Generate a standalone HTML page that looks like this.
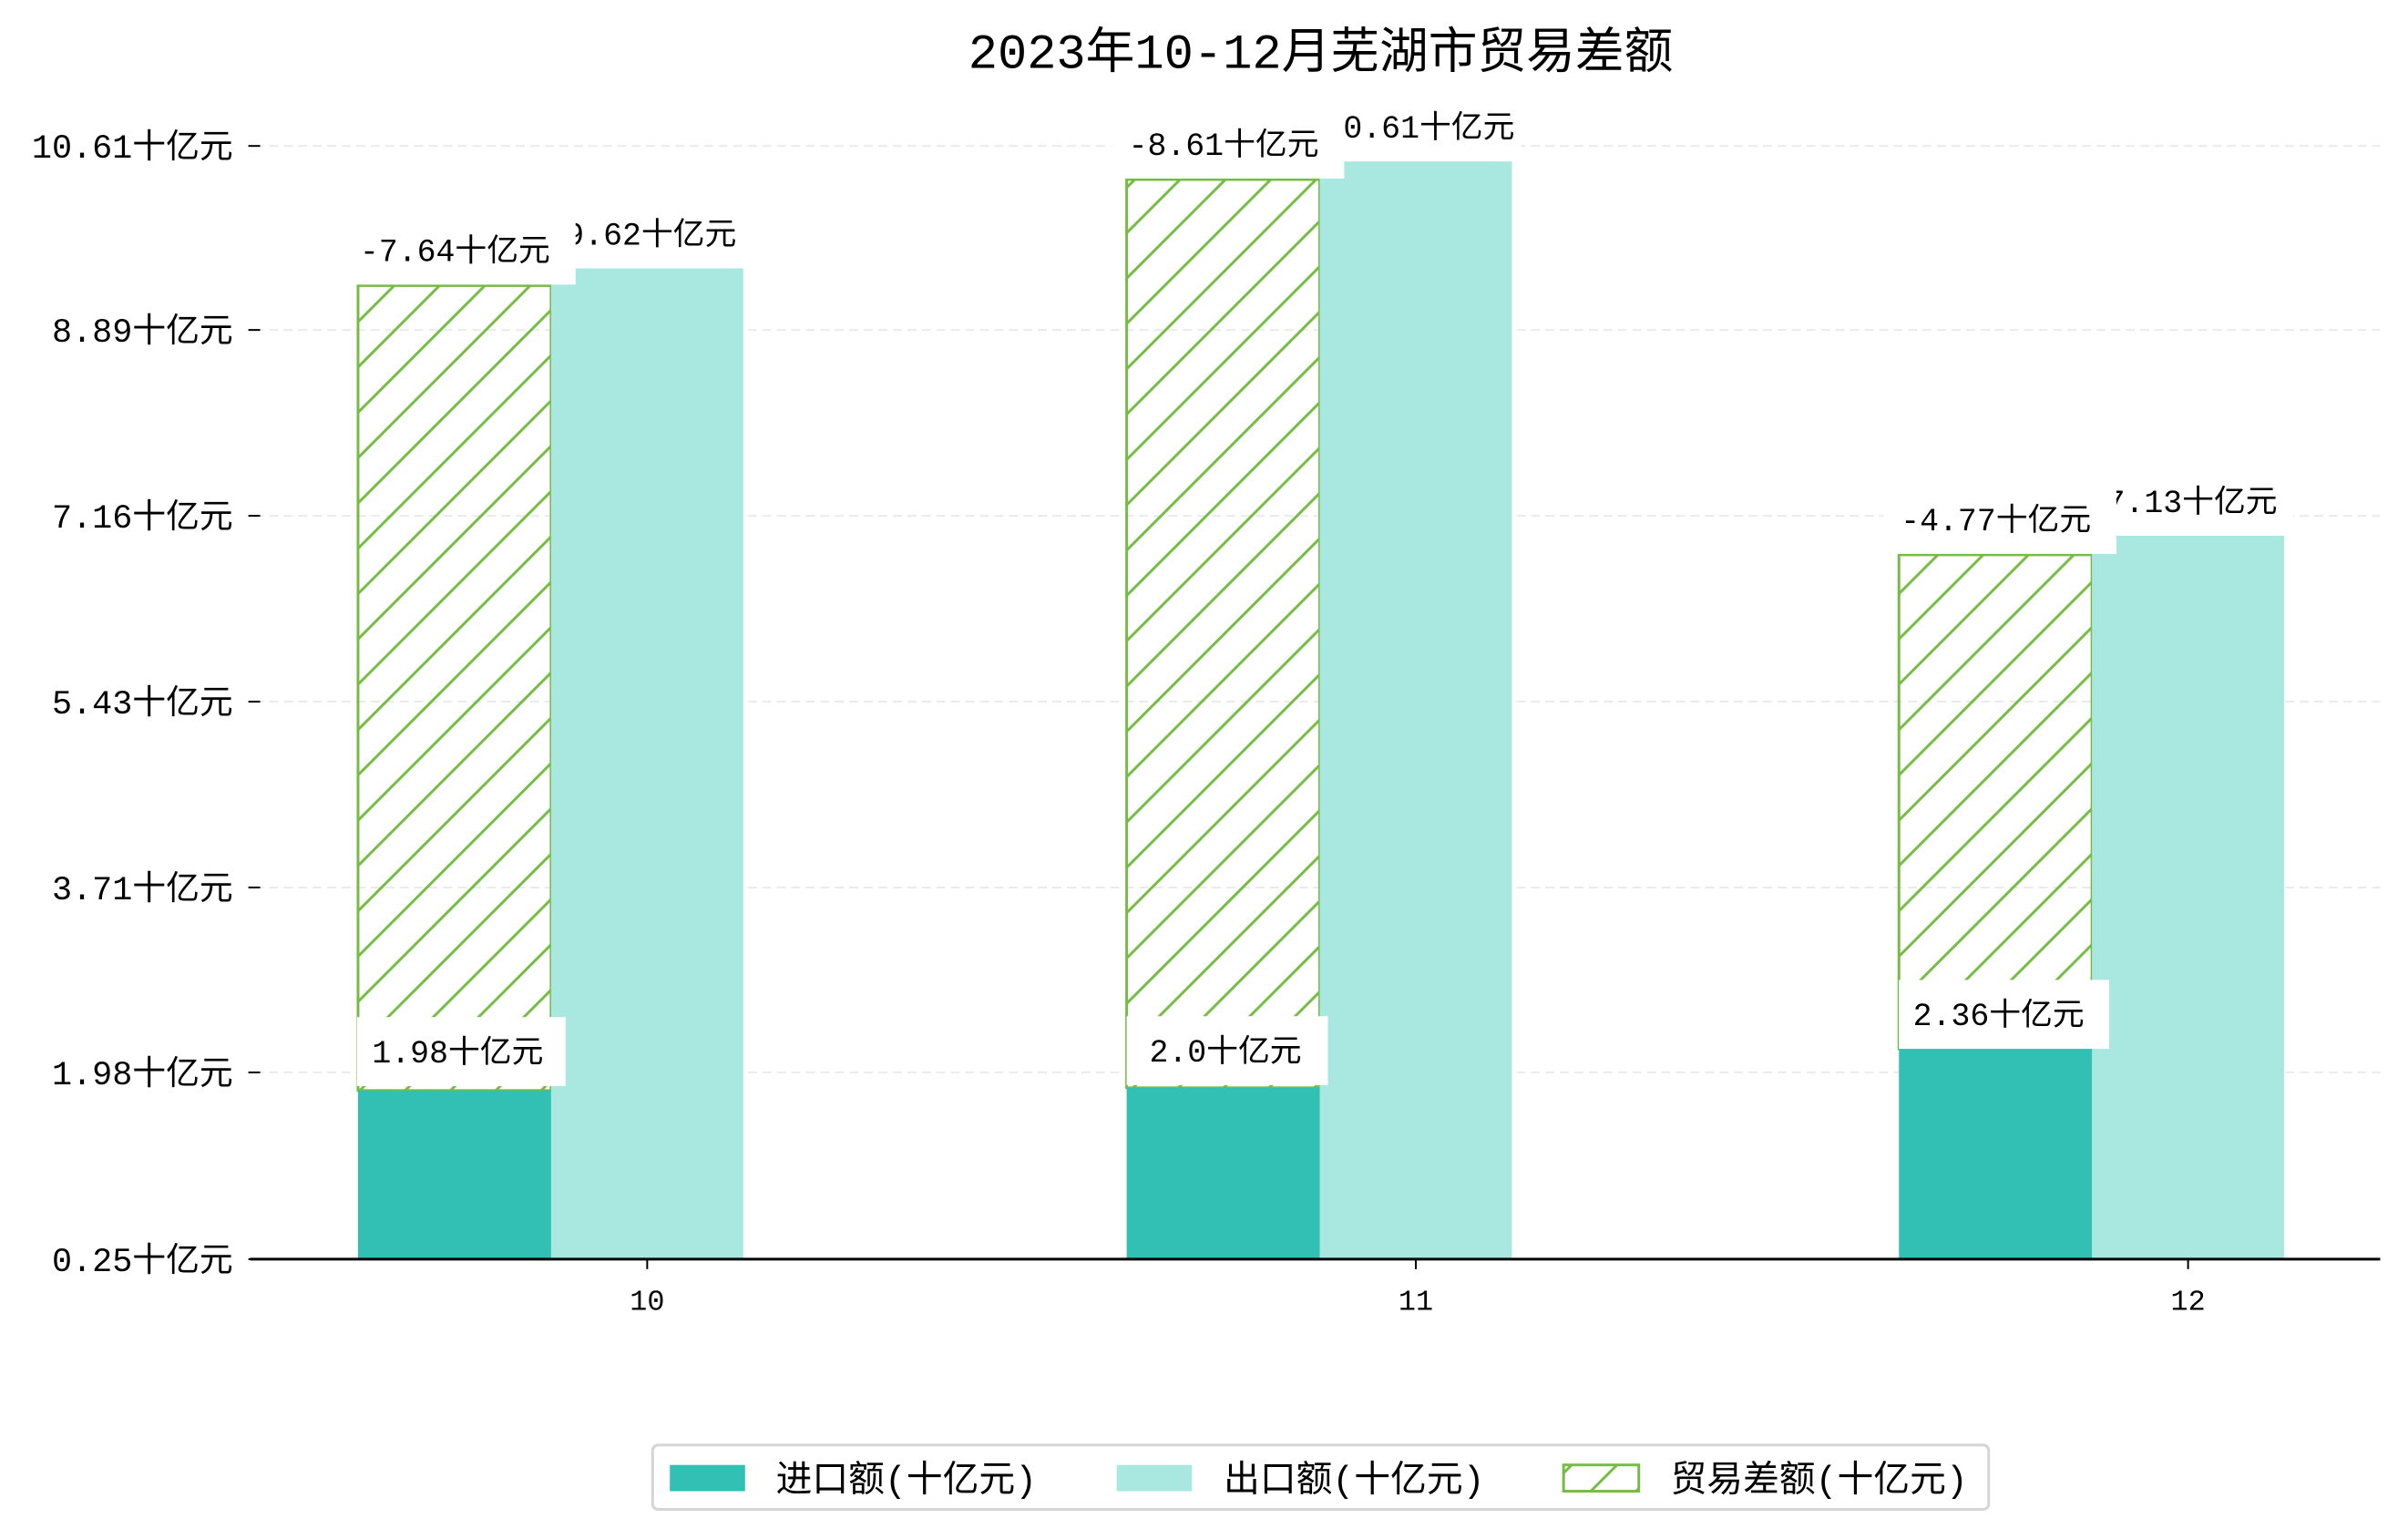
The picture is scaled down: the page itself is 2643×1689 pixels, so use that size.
<!DOCTYPE html>
<html><head><meta charset="utf-8"><style>
html,body{margin:0;padding:0;background:#fff;}
svg{display:block;}
text{font-family:"Liberation Mono","Noto Sans CJK SC",monospace;fill:#000;}
</style></head><body>
<svg width="2643" height="1689" viewBox="0 0 2643 1689" xmlns="http://www.w3.org/2000/svg">
<defs>
<pattern id="h" patternUnits="userSpaceOnUse" width="50" height="50">
<line x1="-5" y1="55" x2="55" y2="-5" stroke="#76bc44" stroke-width="3"/>
<line x1="-55" y1="55" x2="5" y2="-5" stroke="#76bc44" stroke-width="3"/>
<line x1="45" y1="55" x2="105" y2="-5" stroke="#76bc44" stroke-width="3"/>
</pattern>
</defs>
<rect width="2643" height="1689" fill="#fff"/>
<g transform="scale(0.99487)">
<text x="1457" y="75" font-size="54" text-anchor="middle">2023年10-12月芜湖市贸易差额</text>
<g stroke="#ebebeb" stroke-width="2" stroke-dasharray="10,6">
<line x1="281" y1="161" x2="2626" y2="161"/>
<line x1="281" y1="364" x2="2626" y2="364"/>
<line x1="281" y1="569" x2="2626" y2="569"/>
<line x1="281" y1="774" x2="2626" y2="774"/>
<line x1="281" y1="979" x2="2626" y2="979"/>
<line x1="281" y1="1183" x2="2626" y2="1183"/>
</g>
<g stroke="#000" stroke-width="2">
<line x1="274" y1="161" x2="287" y2="161"/>
<line x1="274" y1="364" x2="287" y2="364"/>
<line x1="274" y1="569" x2="287" y2="569"/>
<line x1="274" y1="774" x2="287" y2="774"/>
<line x1="274" y1="979" x2="287" y2="979"/>
<line x1="274" y1="1183" x2="287" y2="1183"/>
<line x1="274" y1="1389" x2="287" y2="1389"/>
</g>
<g font-size="37" text-anchor="end">
<text x="257" y="174">10.61十亿元</text>
<text x="257" y="377">8.89十亿元</text>
<text x="257" y="582">7.16十亿元</text>
<text x="257" y="787">5.43十亿元</text>
<text x="257" y="992">3.71十亿元</text>
<text x="257" y="1196">1.98十亿元</text>
<text x="257" y="1402">0.25十亿元</text>
</g>
<rect x="395" y="315" width="213" height="888" fill="url(#h)" stroke="#76bc44" stroke-width="3"/>
<rect x="608" y="296" width="212" height="1093" fill="#a9e7e1"/>
<rect x="395" y="1203" width="213" height="186" fill="#31c0b3"/>
<rect x="1243" y="198" width="213" height="1002" fill="url(#h)" stroke="#76bc44" stroke-width="3"/>
<rect x="1456" y="178" width="212" height="1211" fill="#a9e7e1"/>
<rect x="1243" y="1200" width="213" height="189" fill="#31c0b3"/>
<rect x="2095" y="612" width="213" height="545" fill="url(#h)" stroke="#76bc44" stroke-width="3"/>
<rect x="2308" y="591" width="212" height="798" fill="#a9e7e1"/>
<rect x="2095" y="1157" width="213" height="232" fill="#31c0b3"/>
<g font-size="35" text-anchor="middle">
<rect x="598" y="220" width="232" height="76" fill="#fff"/><text x="718" y="270">9.62十亿元</text>
<rect x="1446" y="102" width="232" height="76" fill="#fff"/><text x="1566" y="152">10.61十亿元</text>
<rect x="2298" y="515" width="232" height="76" fill="#fff"/><text x="2418" y="565">7.13十亿元</text>
<rect x="378" y="238" width="257" height="76" fill="#fff"/><text x="502" y="288">-7.64十亿元</text>
<rect x="1226" y="121" width="257" height="76" fill="#fff"/><text x="1350" y="171">-8.61十亿元</text>
<rect x="2078" y="535" width="257" height="76" fill="#fff"/><text x="2202" y="585">-4.77十亿元</text>
<rect x="394" y="1122" width="230" height="76" fill="#fff"/><text x="505" y="1172">1.98十亿元</text>
<rect x="1243" y="1121" width="222" height="76" fill="#fff"/><text x="1352" y="1171">2.0十亿元</text>
<rect x="2095" y="1081" width="232" height="76" fill="#fff"/><text x="2205" y="1131">2.36十亿元</text>
</g>
<line x1="276" y1="1389" x2="2626" y2="1389" stroke="#000" stroke-width="3"/>
<g stroke="#000" stroke-width="2">
<line x1="714" y1="1389" x2="714" y2="1400"/>
<line x1="1562" y1="1389" x2="1562" y2="1400"/>
<line x1="2414" y1="1389" x2="2414" y2="1400"/>
</g>
<g font-size="32" text-anchor="middle">
<text x="714" y="1445">10</text>
<text x="1562" y="1445">11</text>
<text x="2414" y="1445">12</text>
</g>
<rect x="720" y="1594" width="1474" height="71" rx="6" fill="#fff" stroke="#d5d5d5" stroke-width="3"/>
<rect x="739" y="1616" width="83" height="29" fill="#31c0b3"/>
<rect x="1232" y="1616" width="83" height="29" fill="#a9e7e1"/>
<rect x="1725" y="1616" width="83" height="29" fill="url(#h)" stroke="#76bc44" stroke-width="3"/>
<g font-size="40">
<text x="856" y="1645">进口额(十亿元)</text>
<text x="1350" y="1645">出口额(十亿元)</text>
<text x="1843" y="1645">贸易差额(十亿元)</text>
</g>
</g>
</svg>
</body></html>
